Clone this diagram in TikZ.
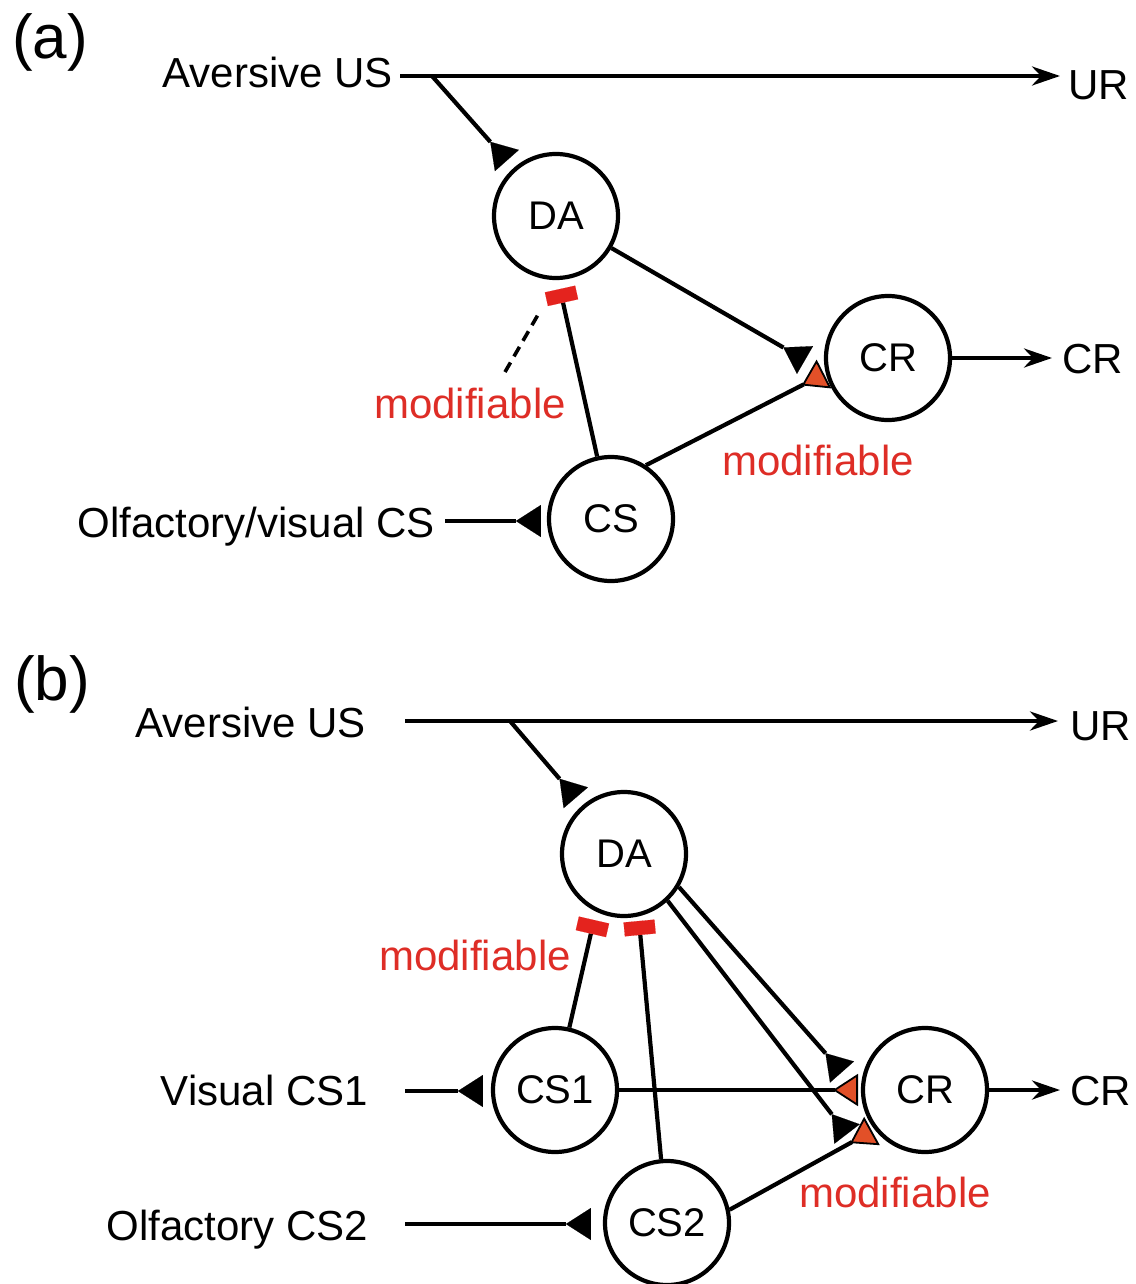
\documentclass[tikz,border=0pt]{standalone}
\usepackage{fontspec}
\setmainfont{Liberation Sans}
\usetikzlibrary{arrows.meta}
\definecolor{modred}{RGB}{222,45,38}
\definecolor{barred}{RGB}{228,35,30}
\definecolor{trifill}{RGB}{226,80,40}
\begin{document}
\begin{tikzpicture}[x=1pt,y=-1pt, line width=4.2pt,
 neuron/.style={circle,draw,minimum size=124pt,inner sep=0pt,font=\fontsize{40}{46}\selectfont},
 lbl/.style={inner sep=0pt,font=\fontsize{42}{48}\selectfont},
 modlbl/.style={lbl,text=modred},
 panel/.style={inner sep=0pt,font=\fontsize{62}{72}\selectfont},
 excite/.style={-{Triangle[reversed,length=25pt,width=32pt,line width=0.1pt]}},
 modexcite/.style={-{Triangle[reversed,length=25pt,width=32pt,fill=trifill,color=black,line width=1.8pt]}},
 inhib/.style={-{Rectangle[length=14pt,width=31pt,color=barred,fill=barred,line width=0.1pt]}},
 outarrow/.style={-{Stealth[length=28pt,width=19pt,inset=9pt]}},
 modline/.style={line width=3.6pt,dash pattern=on 11pt off 7pt}
]
\useasboundingbox (0,0) rectangle (1135,1284);

% ---------------- panel (a)
\node[panel] (pa) at (50,42) {(a)};
\node[lbl,anchor=base east] (usA) at (395,88) {Aversive US};
\node[lbl,anchor=base west] (urA) at (1066,100) {UR};
\node[neuron] (DAa) at (556,216) {DA};
\node[neuron] (CRa) at (888,358) {CR};
\node[neuron] (CSa) at (611,519) {CS};
\node[lbl,anchor=base west] (crOutA) at (1060,373) {CR};
\node[lbl,anchor=base east] (olfA) at (437,537) {Olfactory/visual CS};
\node[modlbl] (modA1) at (470,403) {modifiable};
\node[modlbl] (modA2) at (818,460) {modifiable};

\coordinate (lA) at (400,76);
\coordinate (brA) at (432,76);
\coordinate (urAe) at (1060,76);
\coordinate (aDAend) at (805,360);
\coordinate (aCSend) at (824,374);
\coordinate (aBar) at (560,289);
\coordinate (dA1) at (505,372);
\coordinate (dA2) at (539,313);
\coordinate (olfS) at (445,521);

\draw[outarrow] (lA) -- (urAe);
\draw[excite, shorten >=10pt] (brA) -- (DAa);
\draw[excite] (DAa) -- (aDAend);
\draw[modexcite] (CSa.57) -- (aCSend);
\draw[inhib] (CSa) -- (aBar);
\draw[modline] (dA1) -- (dA2);
\draw[outarrow] (CRa) -- ([xshift=-8pt]crOutA.west |- CRa);
\draw[excite, shorten >=6pt] (olfS) -- (CSa.west |- olfS);

% ---------------- panel (b)
\node[panel] (pb) at (52,684) {(b)};
\node[lbl,anchor=base east] (usB) at (368,737) {Aversive US};
\node[lbl,anchor=base west] (urB) at (1068,740) {UR};
\node[neuron] (DAb) at (624,854) {DA};
\node[neuron] (CS1) at (555,1090) {CS1};
\node[neuron] (CS2) at (667,1223) {CS2};
\node[neuron] (CRb) at (925,1090) {CR};
\node[lbl,anchor=base west] (crOutB) at (1068,1105) {CR};
\node[lbl,anchor=base east] (visB) at (370,1105) {Visual CS1};
\node[lbl,anchor=base east] (olfB) at (370,1240) {Olfactory CS2};
\node[modlbl] (modB1) at (475,955) {modifiable};
\node[modlbl] (modB2) at (895,1192) {modifiable};

\coordinate (lB) at (405,721);
\coordinate (brB) at (510,721);
\coordinate (urBe) at (1058,721);
\coordinate (bB1) at (594,920);
\coordinate (bB2) at (639,921);
\coordinate (bE1) at (842,1072);
\coordinate (bE2) at (847,1134);
\coordinate (bM1) at (858,1090);
\coordinate (bM2) at (872,1131);
\coordinate (visS) at (405,1091);
\coordinate (olfBS) at (405,1224);

\draw[outarrow] (lB) -- (urBe);
\draw[excite, shorten >=10pt] (brB) -- (DAb);
\draw[inhib] (CS1) -- (bB1);
\draw[inhib] (CS2) -- (bB2);
\draw[excite] (DAb.-31) -- (bE1);
\draw[excite] (DAb.-47) -- (bE2);
\draw[modexcite] (CS1) -- (bM1);
\draw[modexcite] (CS2.12) -- (bM2);
\draw[outarrow] (CRb) -- ([xshift=-8pt]crOutB.west |- CRb);
\draw[excite, shorten >=8pt] (visS) -- (CS1.west |- visS);
\draw[excite, shorten >=12pt] (olfBS) -- (CS2.west |- olfBS);
\end{tikzpicture}
\end{document}
